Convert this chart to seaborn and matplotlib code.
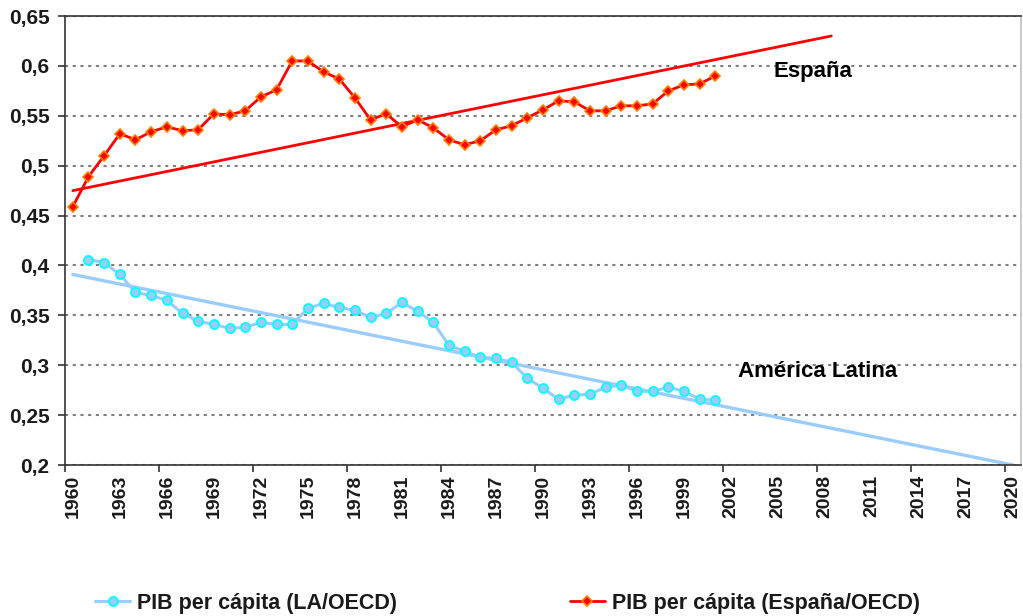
import numpy as np
import seaborn as sns
import matplotlib.pyplot as plt

# PIB per cápita relativo a la OECD
spain_years = list(range(1960, 2002))
spain = [0.459, 0.489, 0.510, 0.532, 0.526, 0.534, 0.539, 0.535, 0.536, 0.552,
         0.551, 0.555, 0.569, 0.576, 0.605, 0.605, 0.594, 0.587, 0.568, 0.546,
         0.552, 0.539, 0.546, 0.538, 0.526, 0.521, 0.525, 0.536, 0.540, 0.548,
         0.556, 0.565, 0.564, 0.555, 0.555, 0.560, 0.560, 0.562, 0.575, 0.581,
         0.582, 0.590]

la_years = list(range(1961, 2002))
la = [0.406, 0.403, 0.391, 0.373, 0.370, 0.365, 0.352, 0.344, 0.341, 0.337,
      0.338, 0.343, 0.341, 0.341, 0.357, 0.362, 0.358, 0.355, 0.348, 0.352,
      0.363, 0.354, 0.343, 0.320, 0.314, 0.308, 0.307, 0.303, 0.287, 0.277,
      0.266, 0.270, 0.271, 0.278, 0.280, 0.274, 0.274, 0.278, 0.274, 0.266,
      0.265]

# lineas de tendencia
spain_trend_years = [1960, 2008.4]
spain_trend = [0.475, 0.630]
la_trend_years = [1960, 2020]
la_trend = [0.391, 0.200]

xtick_years = list(range(1960, 2021, 3))
ytick_values = [0.2, 0.25, 0.3, 0.35, 0.4, 0.45, 0.5, 0.55, 0.6, 0.65]
ytick_labels = ['0,2', '0,25', '0,3', '0,35', '0,4', '0,45', '0,5', '0,55', '0,6', '0,65']

sns.set_theme(style="white")
plt.rcParams['font.family'] = ['Liberation Sans', 'DejaVu Sans']
plt.rcParams['font.weight'] = 'bold'

fig, ax = plt.subplots(figsize=(10.23, 6.16), dpi=100)
fig.subplots_adjust(left=0.0635, right=0.998, top=0.974, bottom=0.245)

blue = '#99CCFF'
red = '#FF0000'

sns.lineplot(x=la_trend_years, y=la_trend, ax=ax, color=blue, lw=2.4, zorder=2)
sns.lineplot(x=spain_trend_years, y=spain_trend, ax=ax, color=red, lw=2.0, zorder=2)

sns.lineplot(x=la_years, y=la, ax=ax, color=blue, lw=2.2, marker='o', markersize=6.5,
             markerfacecolor=blue, markeredgecolor='#00FFFF', markeredgewidth=1.3,
             label='PIB per cápita (LA/OECD)', zorder=3)
sns.lineplot(x=spain_years, y=spain, ax=ax, color=red, lw=2.0, marker='D', markersize=5.5,
             markerfacecolor=red, markeredgecolor='#FF8000', markeredgewidth=1.2,
             label='PIB per cápita (España/OECD)', zorder=3)

ax.set_xlim(1959.5, 2020.5)
ax.set_ylim(0.2, 0.65)

ax.set_xticks(xtick_years)
ax.set_xticklabels([str(y) for y in xtick_years], rotation=90, fontsize=14,
                   fontweight='bold', color='#1a1a1a')
ax.set_xticks(np.arange(1959.5, 2020, 6), minor=True)
ax.tick_params(axis='x', which='major', length=0, pad=7)
ax.tick_params(axis='x', which='minor', length=5, width=1.2, color='#333333',
               direction='out', bottom=True)

ax.set_yticks(ytick_values)
ax.set_yticklabels(ytick_labels, fontsize=15, fontweight='bold', color='#1a1a1a')
ax.tick_params(axis='y', length=5, width=1.2, color='#333333', direction='out',
               left=True, pad=6)

ax.yaxis.grid(True, color='#808080', linestyle=(0, (1.5, 2.2)), lw=1.5)
ax.xaxis.grid(False)

for side in ['left', 'bottom', 'top']:
    ax.spines[side].set_color('#333333')
    ax.spines[side].set_linewidth(1.2)
ax.spines['right'].set_color('#C0C0C0')
ax.spines['right'].set_linewidth(1.2)

ax.set_xlabel('')
ax.set_ylabel('')

ax.text(2004.7, 0.594, 'España', fontsize=16, fontweight='bold', ha='left',
        va='center', color='black')
ax.text(2002.45, 0.294, 'América Latina', fontsize=16, fontweight='bold',
        ha='left', va='center', color='black')

handles, labels = ax.get_legend_handles_labels()
ax.get_legend().remove()
fig.legend(handles, labels, loc='center', bbox_to_anchor=(0.496, 0.021), ncol=2,
           frameon=False, fontsize=15.5, handlelength=1.63, handletextpad=0.33,
           columnspacing=8.0, labelcolor='#1a1a1a')

plt.savefig('out.png', dpi=100)
